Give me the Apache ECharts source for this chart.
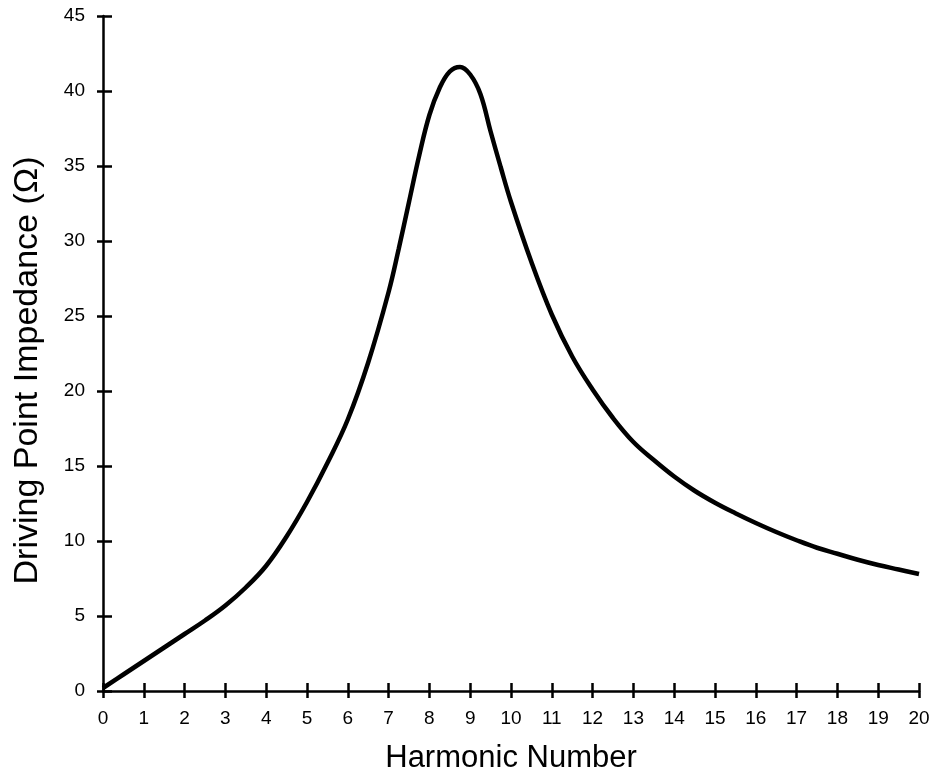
<!DOCTYPE html>
<html>
<head>
<meta charset="utf-8">
<script src="https://cdn.jsdelivr.net/npm/echarts@6/dist/echarts.min.js"></script>
<style>
html,body{margin:0;padding:0;background:#fff;}
#c{width:935px;height:780px;}
</style>
</head>
<body>
<div id="c"></div>
<script>
// Harmonic number (x) and driving point impedance in ohms (y)
const harmonic = [0, 0.5, 1, 1.5, 2, 2.5, 3, 3.5, 4, 4.5, 5, 5.5, 6, 6.5, 7, 7.25, 7.5, 7.75, 8, 8.25, 8.5, 8.75, 9, 9.25, 9.5, 9.75, 10, 10.5, 11, 11.5, 12, 12.5, 13, 13.5, 14, 14.5, 15, 15.5, 16, 16.5, 17, 17.5, 18, 18.5, 19, 19.5, 20];
const impedance = [0.2, 1.1, 2.0, 2.9, 3.8, 4.7, 5.7, 6.9, 8.35, 10.3, 12.6, 15.2, 18.1, 21.9, 26.6, 29.5, 32.6, 35.7, 38.4, 40.2, 41.3, 41.6, 41.1, 39.8, 37.3, 34.9, 32.6, 28.6, 25.1, 22.3, 20.1, 18.2, 16.6, 15.4, 14.3, 13.35, 12.55, 11.85, 11.2, 10.6, 10.05, 9.55, 9.15, 8.75, 8.4, 8.1, 7.8];
const xTicks = {min: 0, max: 20, interval: 1};
const yTicks = {min: 0, max: 45, interval: 5};
const xTitle = 'Harmonic Number';
const yTitle = 'Driving Point Impedance (Ω)';

const font = '"Liberation Sans", Arial, Helvetica, sans-serif';
const chart = echarts.init(document.getElementById('c'), null, {renderer: 'canvas'});
const pts = harmonic.map((h, i) => [h, impedance[i]]);
const axisLine = {show: true, onZero: false, lineStyle: {color: '#000', width: 2.5}};

chart.setOption({
  animation: false,
  backgroundColor: '#fff',
  grid: {left: 103, right: 16, top: 16, bottom: 89, containLabel: false},
  xAxis: [{
    type: 'value', min: xTicks.min, max: xTicks.max, interval: xTicks.interval,
    name: xTitle, nameLocation: 'middle', nameGap: 52,
    nameTextStyle: {fontFamily: font, fontSize: 31, color: '#000'},
    axisLine: axisLine,
    axisTick: {show: true, length: 7, lineStyle: {color: '#000', width: 2.5}},
    axisLabel: {fontFamily: font, fontSize: 19, color: '#000', margin: 18},
    splitLine: {show: false}
  }, {
    type: 'value', min: xTicks.min, max: xTicks.max, interval: xTicks.interval,
    position: 'bottom',
    axisLine: {show: false},
    axisTick: {show: true, inside: true, length: 8, lineStyle: {color: '#000', width: 2.5}},
    axisLabel: {show: false}, splitLine: {show: false}
  }],
  yAxis: [{
    type: 'value', min: yTicks.min, max: yTicks.max, interval: yTicks.interval,
    name: yTitle, nameLocation: 'middle', nameGap: 58, nameRotate: 90,
    nameTextStyle: {fontFamily: font, fontSize: 34, color: '#000', padding: [0, 34, 0, 0]},
    axisLine: axisLine,
    axisTick: {show: true, length: 6, lineStyle: {color: '#000', width: 2.5}},
    axisLabel: {fontFamily: font, fontSize: 19, color: '#000', margin: 18},
    splitLine: {show: false}
  }, {
    type: 'value', min: yTicks.min, max: yTicks.max, interval: yTicks.interval,
    position: 'left',
    axisLine: {show: false},
    axisTick: {show: true, inside: true, length: 9, lineStyle: {color: '#000', width: 2.5}},
    axisLabel: {show: false}, splitLine: {show: false}
  }],
  series: [{
    type: 'line', xAxisIndex: 0, yAxisIndex: 0,
    data: pts, smooth: 0.4, showSymbol: false, symbol: 'none',
    lineStyle: {color: '#000', width: 4.5}
  }]
});
</script>
</body>
</html>
